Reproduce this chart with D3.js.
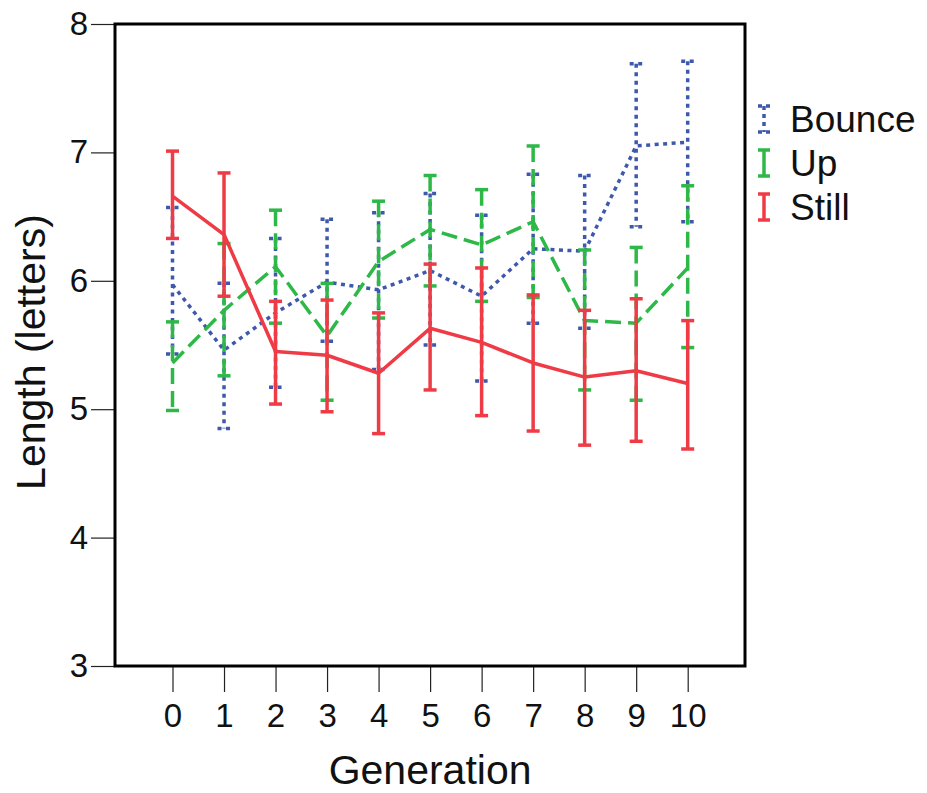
<!DOCTYPE html>
<html>
<head>
<meta charset="utf-8">
<script src="https://cdn.jsdelivr.net/npm/d3@7"></script>
<style>
  body { margin: 0; background: #fff; }
  text { font-family: "Liberation Sans", Arial, sans-serif; }
</style>
</head>
<body>
<div id="plot"></div>
<script>
// chart values
let gens = [0, 1, 2, 3, 4, 5, 6, 7, 8, 9, 10]
let yTicks = [3, 4, 5, 6, 7, 8]
let seriesNames = ['Bounce', 'Up', 'Still']

let bounceMean = [5.97, 5.46, 5.75, 5.99, 5.93, 6.08, 5.88, 6.25, 6.23, 7.05, 7.08]
let bounceLo = [5.43, 4.85, 5.17, 5.53, 5.31, 5.50, 5.22, 5.67, 5.63, 6.42, 6.46]
let bounceHi = [6.57, 5.98, 6.33, 6.48, 6.53, 6.68, 6.51, 6.83, 6.82, 7.69, 7.71]

let upMean = [5.36, 5.77, 6.11, 5.57, 6.15, 6.40, 6.28, 6.46, 5.69, 5.67, 6.10]
let upLo = [4.99, 5.26, 5.67, 5.07, 5.71, 5.96, 5.84, 5.87, 5.15, 5.07, 5.48]
let upHi = [5.68, 6.29, 6.55, 5.98, 6.62, 6.82, 6.71, 7.05, 6.24, 6.26, 6.74]

let stillMean = [6.66, 6.36, 5.45, 5.42, 5.28, 5.63, 5.52, 5.36, 5.25, 5.30, 5.20]
let stillLo = [6.33, 5.88, 5.04, 4.98, 4.81, 5.15, 4.95, 4.83, 4.72, 4.75, 4.69]
let stillHi = [7.01, 6.84, 5.84, 5.85, 5.75, 6.13, 6.10, 5.89, 5.77, 5.86, 5.69]

let series = [
  {name: 'Bounce', mean: bounceMean, lo: bounceLo, hi: bounceHi, color: '#3e58ac', dash: '4,4.5', width: 3.5},
  {name: 'Up', mean: upMean, lo: upLo, hi: upHi, color: '#2eb848', dash: '16,7', width: 3.5},
  {name: 'Still', mean: stillMean, lo: stillLo, hi: stillHi, color: '#ef3b45', dash: null, width: 3.5}
]

let W = 927, H = 793
let plotLeft = 115, plotRight = 745, plotTop = 24, plotBottom = 666

let svg = d3.select('#plot').append('svg')
.attr('width', W)
.attr('height', H)

let x = d3.scaleLinear().domain([0, 10]).range([172.5, 687.7])
let y = d3.scaleLinear().domain([3, 8]).range([plotBottom, plotTop])

// axes
let xAxis = svg.append('g')
.attr('transform', 'translate(0,' + plotBottom + ')')
.call(d3.axisBottom(x).tickValues(gens).tickSize(26).tickPadding(12).tickFormat(d3.format('d')))
xAxis.select('.domain').remove()
xAxis.selectAll('line').attr('stroke', '#222').attr('stroke-width', 1.2)
xAxis.selectAll('text').style('font-size', '33px').attr('fill', '#111')

let yAxis = svg.append('g')
.attr('transform', 'translate(' + plotLeft + ',0)')
.call(d3.axisLeft(y).tickValues(yTicks).tickSize(24).tickPadding(3).tickFormat(d3.format('d')))
yAxis.select('.domain').remove()
yAxis.selectAll('line').attr('stroke', '#222').attr('stroke-width', 1.2)
yAxis.selectAll('text').style('font-size', '33px').attr('fill', '#111')

// frame
svg.append('rect')
.attr('x', plotLeft)
.attr('y', plotTop)
.attr('width', plotRight - plotLeft)
.attr('height', plotBottom - plotTop)
.attr('fill', 'none')
.attr('stroke', '#000')
.attr('stroke-width', 3)

let capW = 6.5

series.forEach(function(s) {
  let g = svg.append('g')
  .attr('stroke', s.color)
  .attr('stroke-width', s.width)
  .attr('fill', 'none')
  .attr('stroke-dasharray', s.dash)

  // error bars
  g.selectAll('.bar').data(gens).enter()
  .append('line')
  .attr('x1', d => x(d))
  .attr('x2', d => x(d))
  .attr('y1', (d, i) => y(s.hi[i]))
  .attr('y2', (d, i) => y(s.lo[i]))

  g.selectAll('.capHi').data(gens).enter()
  .append('line')
  .attr('x1', d => x(d) - capW)
  .attr('x2', d => x(d) + capW)
  .attr('y1', (d, i) => y(s.hi[i]))
  .attr('y2', (d, i) => y(s.hi[i]))

  g.selectAll('.capLo').data(gens).enter()
  .append('line')
  .attr('x1', d => x(d) - capW)
  .attr('x2', d => x(d) + capW)
  .attr('y1', (d, i) => y(s.lo[i]))
  .attr('y2', (d, i) => y(s.lo[i]))

  // mean line
  let line = d3.line()
  .x(d => x(d))
  .y((d, i) => y(s.mean[i]))

  g.append('path')
  .datum(gens)
  .attr('d', line)
  .attr('stroke-linejoin', 'round')
})

// legend
let legend = svg.append('g').attr('transform', 'translate(764, 119)')
series.forEach(function(s, i) {
  let row = legend.append('g').attr('transform', 'translate(0,' + (i * 44) + ')')
  let sym = row.append('g')
  .attr('stroke', s.color)
  .attr('stroke-width', 3.5)
  .attr('stroke-dasharray', s.name == 'Bounce' ? '4,4' : null)
  sym.append('line').attr('x1', 0).attr('x2', 0).attr('y1', -13).attr('y2', 13)
  sym.append('line').attr('x1', -6).attr('x2', 6).attr('y1', -13).attr('y2', -13)
  sym.append('line').attr('x1', -6).attr('x2', 6).attr('y1', 13).attr('y2', 13)

  row.append('text')
  .attr('x', 26)
  .attr('y', 13)
  .style('font-size', '37px')
  .attr('fill', '#111')
  .text(s.name)
})

// axis titles
svg.append('text')
.attr('x', (x(0) + x(10)) / 2)
.attr('y', 784)
.attr('text-anchor', 'middle')
.style('font-size', '41px')
.attr('fill', '#111')
.text('Generation')

svg.append('text')
.attr('transform', 'translate(45, 352) rotate(-90)')
.attr('text-anchor', 'middle')
.style('font-size', '41px')
.attr('fill', '#111')
.text('Length (letters)')
</script>
</body>
</html>
